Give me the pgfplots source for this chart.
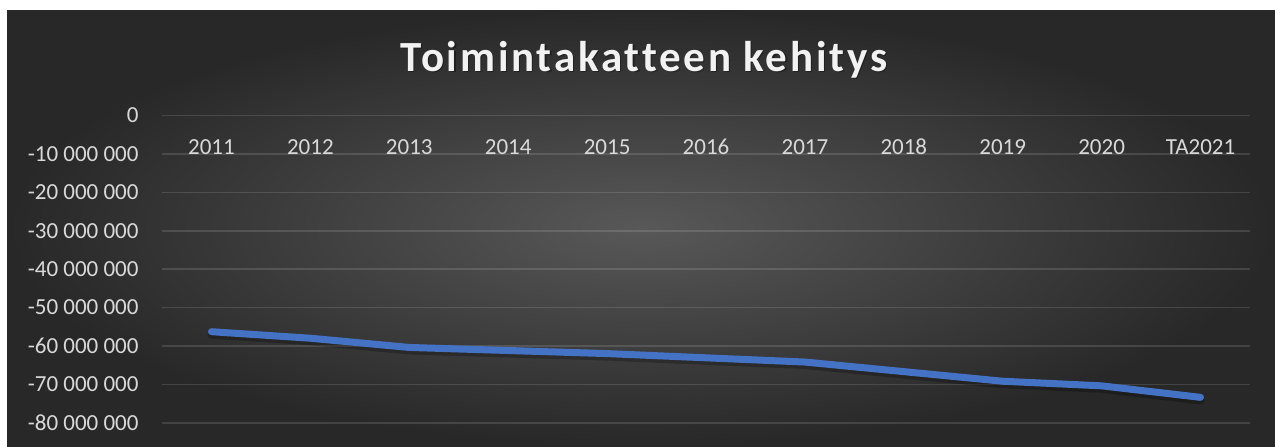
\documentclass[border=0pt]{standalone}
\usepackage{fontspec}
\setmainfont{Carlito}
\newfontfamily\titlefont[LetterSpace=6.5, Ligatures={NoCommon}]{Carlito}
\usepackage{pgfplots}
\pgfplotsset{compat=1.18}
\definecolor{bgin}{HTML}{585858}
\definecolor{bgout}{HTML}{282828}
\definecolor{linec}{HTML}{4472C4}
\definecolor{txt}{HTML}{D9D9D9}
\definecolor{ttl}{HTML}{F2F2F2}
\begin{document}
\begin{tikzpicture}
\fill[white] (0,0) rectangle (637.5pt,223pt);
\shade[inner color=bgin, outer color=bgout] (3.5pt,0) rectangle (637.5pt,218pt);
\node[anchor=base, text=black, opacity=0.35, font=\fontsize{21.5}{24}\selectfont\titlefont\bfseries] at (322.6pt,186.9pt) {Toimintakatteen kehitys};
\node[anchor=base, text=ttl, font=\fontsize{21.5}{24}\selectfont\titlefont\bfseries] at (322pt,187.5pt) {Toimintakatteen kehitys};
\begin{axis}[
  at={(81pt,11.65pt)}, anchor=south west,
  scale only axis, width=544pt, height=153.6pt,
  xmin=-0.5, xmax=10.5, ymin=-80000000, ymax=0,
  axis line style={draw=none}, major tick length=0pt,
  scaled y ticks=false,
  xtick={0,1,2,3,4,5,6,7,8,9,10},
  xticklabels={2011,2012,2013,2014,2015,2016,2017,2018,2019,2020,TA2021},
  xticklabel pos=upper,
  xticklabel style={anchor=base, yshift=-19.25pt},
  ytick={-80000000,-70000000,-60000000,-50000000,-40000000,-30000000,-20000000,-10000000,0},
  yticklabels={-80 000 000,-70 000 000,-60 000 000,-50 000 000,-40 000 000,-30 000 000,-20 000 000,-10 000 000,0},
  yticklabel style={xshift=-8.2pt},
  ticklabel style={font=\fontsize{11.5}{13}\selectfont, text=txt},
  ymajorgrids,
  grid style={line width=0.8pt, white, opacity=0.13},
  clip=false,
]
\addplot[black, opacity=0.25, line width=4pt, line join=round, line cap=round, yshift=-1.5pt] coordinates {
 (0,-56300000) (1,-58000000) (2,-60400000) (3,-61200000) (4,-62000000) (5,-63100000)
 (6,-64200000) (7,-66700000) (8,-69200000) (9,-70400000) (10,-73400000)};
\addplot[linec, line width=3.5pt, line join=round, line cap=round] coordinates {
 (0,-56300000) (1,-58000000) (2,-60400000) (3,-61200000) (4,-62000000) (5,-63100000)
 (6,-64200000) (7,-66700000) (8,-69200000) (9,-70400000) (10,-73400000)};
\end{axis}
\pgfresetboundingbox
\path (0,0) rectangle (637.5pt,223pt);
\end{tikzpicture}
\end{document}
